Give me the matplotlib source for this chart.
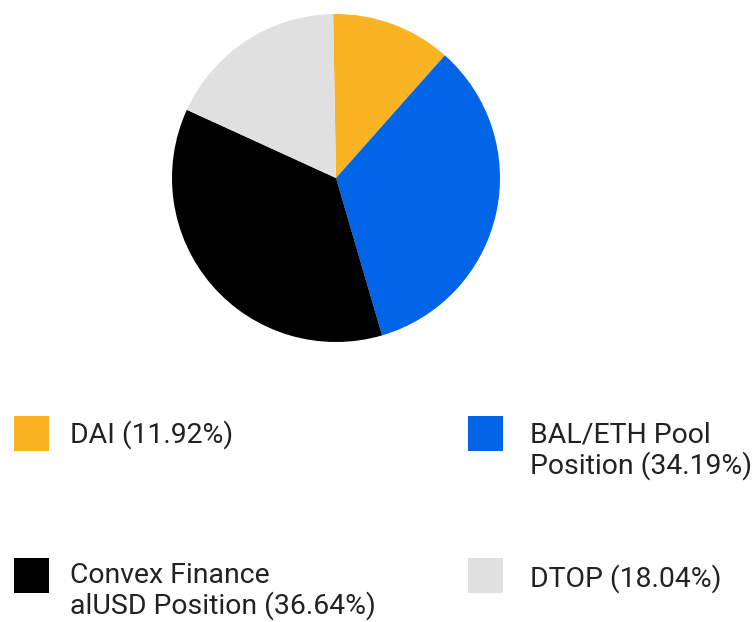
import matplotlib
matplotlib.use("Agg")
import matplotlib.pyplot as plt
from matplotlib.patches import Rectangle

labels = ["DAI", "BAL/ETH Pool Position", "Convex Finance alUSD Position", "DTOP"]
shares = [11.92, 34.19, 36.64, 18.04]
colors = ["#F9B323", "#0264E6", "#000000", "#E0E0E0"]
legend_lines = [
    ["DAI (11.92%)"],
    ["BAL/ETH Pool", "Position (34.19%)"],
    ["Convex Finance", "alUSD Position (36.64%)"],
    ["DTOP (18.04%)"],
]

W, H = 754, 622
fig = plt.figure(figsize=(W / 100, H / 100), dpi=100)
fig.patch.set_facecolor("white")

# pie, pixel placement
cx, cy, r = 336, 178, 164
ax = fig.add_axes([(cx - r) / W, 1 - (cy + r) / H, 2 * r / W, 2 * r / H])
ax.pie(shares, colors=colors, startangle=91, counterclock=False,
       radius=1, wedgeprops=dict(linewidth=0))
ax.set_xlim(-1, 1)
ax.set_ylim(-1, 1)
ax.set_axis_off()

# legend, 2 columns
sq = 35
box_pos = [(14, 416), (468, 416), (14, 558), (468, 558)]
text_pos = [(70, 443), (530, 443), (70, 583), (530, 587)]
line_gap = 31
for i in range(len(labels)):
    bx, by = box_pos[i]
    fig.patches.append(Rectangle((bx / W, 1 - (by + sq) / H), sq / W, sq / H,
                                 transform=fig.transFigure, facecolor=colors[i],
                                 edgecolor="none"))
    tx, ty = text_pos[i]
    for j, line in enumerate(legend_lines[i]):
        fig.text(tx / W, 1 - (ty + j * line_gap) / H, line, fontsize=20.4,
                 family="Roboto", color="#222222", va="baseline", ha="left")

fig.savefig("out.png", dpi=100)
